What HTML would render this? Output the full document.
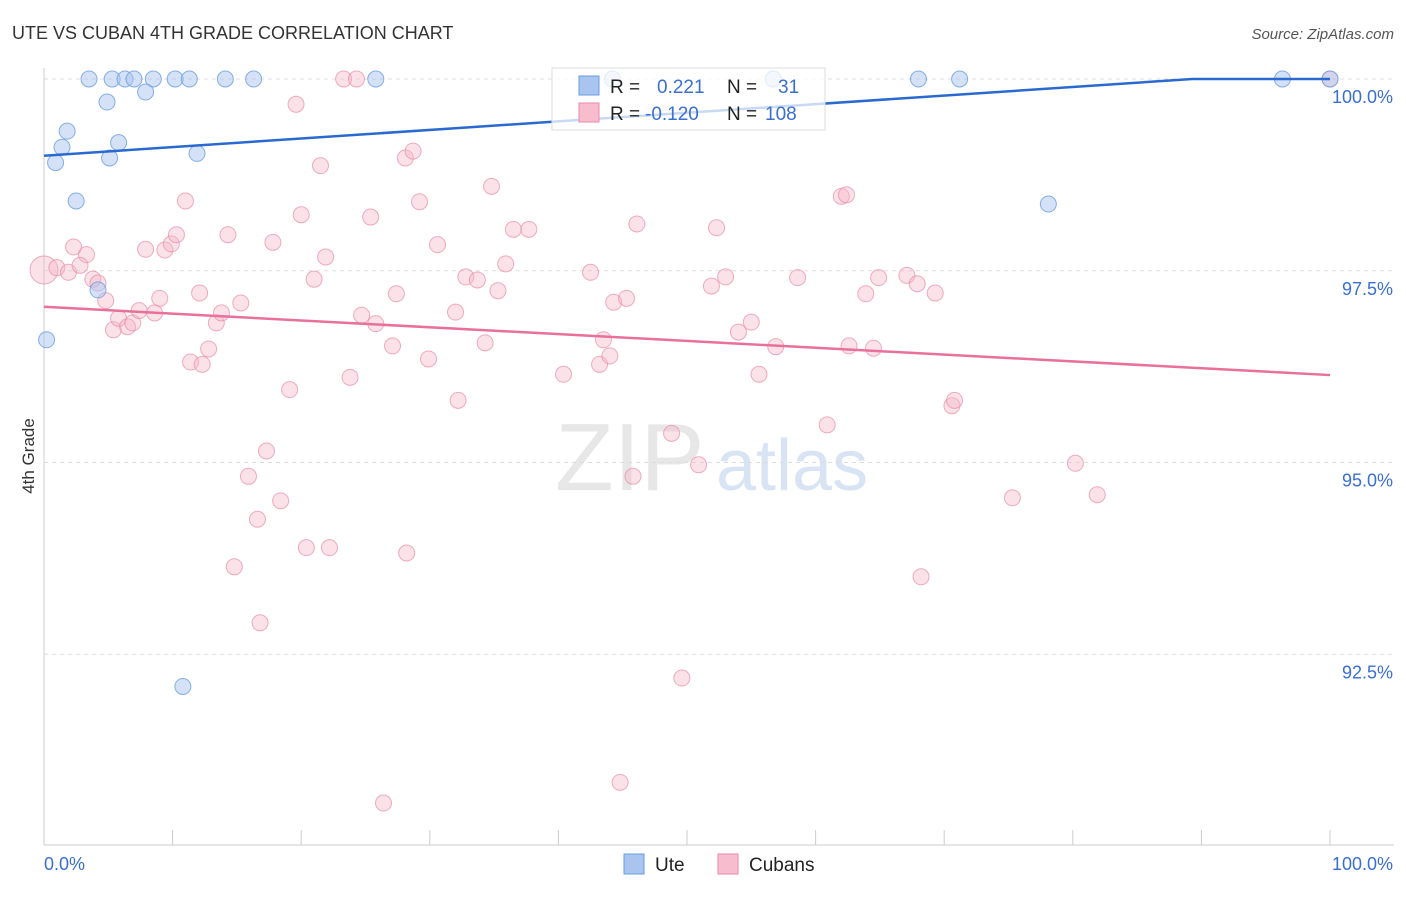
<!DOCTYPE html>
<html><head><meta charset="utf-8"><style>
body{margin:0;background:#fff;font-family:"Liberation Sans",sans-serif}
svg text{font-family:"Liberation Sans",sans-serif}
</style></head><body>
<svg id="c" width="1406" height="892" xmlns="http://www.w3.org/2000/svg">
<text x="12" y="39" font-size="18" fill="#333">UTE VS CUBAN 4TH GRADE CORRELATION CHART</text>
<text x="1394" y="39" font-size="15" fill="#555" font-style="italic" text-anchor="end">Source: ZipAtlas.com</text>
<text x="34" y="456" font-size="17" fill="#333" text-anchor="middle" transform="rotate(-90 34 456)">4th Grade</text>
<g><text x="555" y="490" font-size="96" fill="#ddd" font-family="Liberation Serif" opacity="0.7">ZIP</text><text x="716" y="490" font-size="72" fill="#c8d9f0" opacity="0.7">atlas</text></g>
<g id="grid"></g><g id="pts"></g><g id="trend"></g>
<g>
<rect x="552" y="68" width="273" height="62" fill="#fff" fill-opacity="0.75" stroke="#ddd"/>
<rect x="579" y="76" width="20" height="19" fill="#a9c4ef" stroke="#6a9de0"/>
<rect x="579" y="103" width="20" height="19" fill="#f7bccd" stroke="#e88aa8"/>
<text x="610" y="93" font-size="19" fill="#222">R = </text><text x="657" y="93" font-size="19" fill="#3a6fd0">0.221</text>
<text x="727" y="93" font-size="19" fill="#222">N = </text><text x="778" y="93" font-size="19" fill="#3a6fd0">31</text>
<text x="610" y="120" font-size="19" fill="#222">R = </text><text x="645" y="120" font-size="19" fill="#3a6fd0">-0.120</text>
<text x="727" y="120" font-size="19" fill="#222">N = </text><text x="765" y="120" font-size="19" fill="#3a6fd0">108</text>
</g>
<g>
<rect x="624" y="854" width="20" height="20" fill="#a9c4ef" stroke="#6a9de0"/><text x="655" y="871" font-size="19" fill="#222">Ute</text>
<rect x="718" y="854" width="20" height="20" fill="#f7bccd" stroke="#e88aa8"/><text x="749" y="871" font-size="19" fill="#222">Cubans</text>
</g>
</svg>
<script>
const yTicks=[100,97.5,95,92.5];
const yTickLabels=["100.0%","97.5%","95.0%","92.5%"];
const uteX=[3.5,5.3,6.3,7.0,8.5,10.2,11.3,14.1,16.3,25.8,44.2,56.7,68.0,71.2,96.3,100,4.9,7.9,1.8,1.4,5.8,0.9,5.1,11.9,2.5,78.1,4.2,0.2,10.8];
const uteY=[100,100,100,100,100,100,100,100,100,100,100,100,100,100,100,100,99.7,99.83,99.32,99.11,99.17,98.91,98.97,99.03,98.41,98.37,97.25,96.6,92.08];
const cubX=[0,1.0,1.9,2.3,3.3,2.8,3.8,4.2,4.8,5.4,5.8,6.5,6.9,7.4,8.6,9.0,7.9,9.4,9.9,10.3,11.0,11.4,12.3,12.8,13.4,13.8,14.3,15.3,12.1,17.8,15.9,16.6,17.3,18.4,19.1,19.6,20.0,21.0,21.5,21.9,20.4,22.2,14.8,16.8,23.3,24.3,23.8,24.7,25.4,25.8,27.1,27.4,28.1,28.7,29.2,28.2,29.9,30.6,32.0,32.2,32.8,33.7,34.3,34.8,35.3,35.9,36.5,37.7,26.4,40.4,42.5,43.2,43.5,44.0,44.3,45.3,45.8,46.1,48.8,49.6,50.9,51.9,52.3,53.0,54.0,55.0,55.6,56.9,58.6,60.9,62.0,62.4,62.6,63.9,64.5,64.9,67.1,67.9,68.2,69.3,70.6,70.8,75.3,80.2,81.9,44.8,100];
const cubY=[97.51,97.54,97.48,97.81,97.71,97.57,97.39,97.34,97.11,96.73,96.88,96.77,96.82,96.98,96.95,97.14,97.78,97.77,97.85,97.97,98.41,96.31,96.28,96.48,96.82,96.95,97.97,97.08,97.21,97.87,94.82,94.26,95.15,94.50,95.95,99.67,98.23,97.39,98.87,97.68,93.89,93.89,93.64,92.91,100,100,96.11,96.92,98.20,96.81,96.52,97.20,98.97,99.06,98.40,93.82,96.35,97.84,96.96,95.81,97.42,97.38,96.56,98.60,97.24,97.59,98.04,98.04,90.56,96.15,97.48,96.28,96.60,96.39,97.09,97.14,94.82,98.11,95.38,92.19,94.97,97.30,98.06,97.42,96.70,96.83,96.15,96.51,97.41,95.49,98.47,98.49,96.52,97.20,96.49,97.41,97.44,97.33,93.51,97.21,95.74,95.81,94.54,94.99,94.58,90.83,100];
const uteTrend=[99.0,100.12];
const cubTrend=[97.03,96.14];
const X=v=>44+v*12.86, Y=v=>79+(100-v)*76.7;
const ns="http://www.w3.org/2000/svg";
function mk(t,a,p){const e=document.createElementNS(ns,t);for(const k in a)e.setAttribute(k,a[k]);p.appendChild(e);return e;}
const grid=document.getElementById('grid'),pts=document.getElementById('pts'),tr=document.getElementById('trend');
yTicks.forEach((t,i)=>{const l=mk('line',{x1:44,x2:1394,y1:Y(t),y2:Y(t),stroke:'#ddd','stroke-dasharray':'4 4'},grid);


const tx=mk('text',{x:1393,y:Y(t)+24,'font-size':18,fill:'#3a6fd0','text-anchor':'end'},grid);tx.textContent=yTickLabels[i];

});
mk('line',{x1:44,x2:44,y1:68,y2:845,stroke:'#ccc'},grid);
mk('line',{x1:44,x2:1394,y1:845,y2:845,stroke:'#ccc'},grid);
for(let i=0;i<=10;i++){const t=mk('line',{x1:X(i*10),x2:X(i*10),y1:830,y2:845,stroke:'#ccc'},grid);

}
const x0=mk('text',{x:44,y:870,'font-size':18,fill:'#3a6fd0'},grid);x0.textContent='0.0%';


const x1=mk('text',{x:1393,y:870,'font-size':18,fill:'#3a6fd0','text-anchor':'end'},grid);x1.textContent='100.0%';


cubX.forEach((x,i)=>{const c=mk('circle',{cx:X(x),cy:Y(cubY[i]),r:i==0?14:8,fill:'#f4b6c8','fill-opacity':0.4,stroke:'#e88aa8','stroke-opacity':0.7},pts);

});
uteX.forEach((x,i)=>{const c=mk('circle',{cx:X(x),cy:Y(uteY[i]),r:8,fill:'#a9c4ef','fill-opacity':0.5,stroke:'#6a9de0','stroke-opacity':0.8},pts);

});
const xc=(100-uteTrend[0])/(uteTrend[1]-uteTrend[0])*100;
const ut=mk('polyline',{points:`${X(0)},${Y(uteTrend[0])} ${X(xc)},${Y(100)} ${X(100)},${Y(100)}`,fill:'none',stroke:'#2a6ad0','stroke-width':2.5},tr);


const ct=mk('line',{x1:X(0),y1:Y(cubTrend[0]),x2:X(100),y2:Y(cubTrend[1]),stroke:'#e8709a','stroke-width':2.5},tr);


</script>
</body></html>
